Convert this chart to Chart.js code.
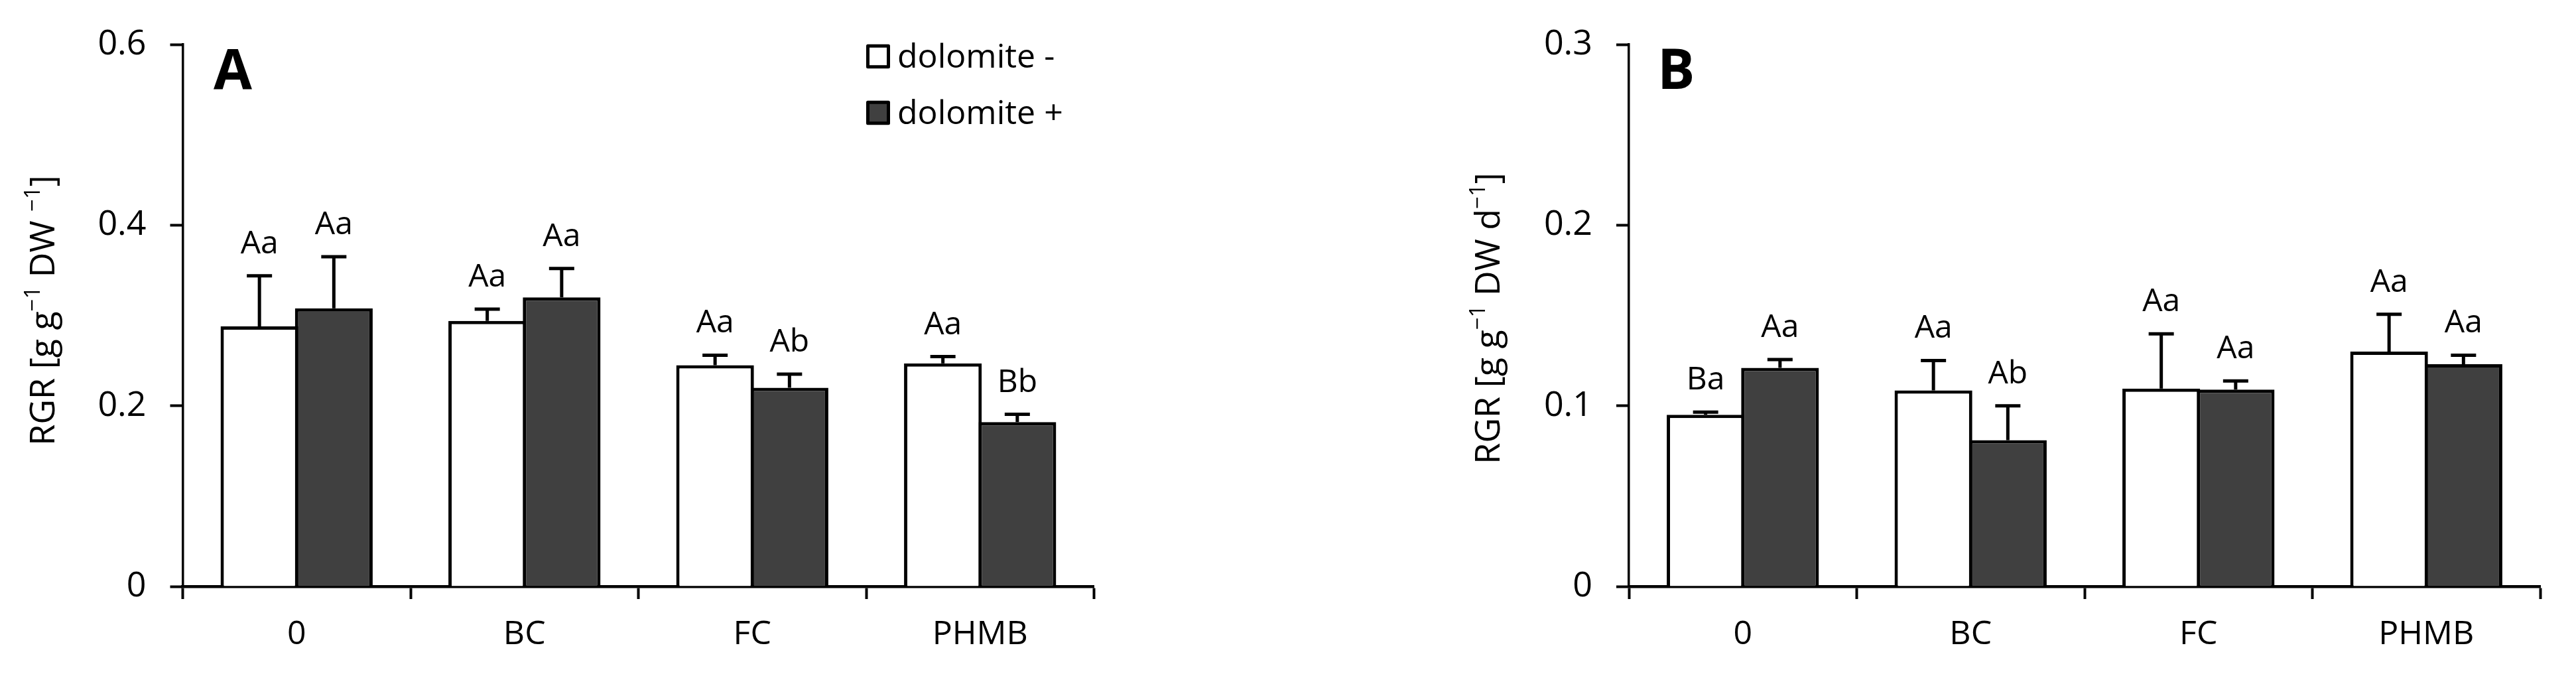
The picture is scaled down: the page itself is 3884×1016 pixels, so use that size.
<!DOCTYPE html>
<html>
<head>
<meta charset="utf-8">
<script src="https://cdn.jsdelivr.net/npm/chart.js@4.4.1/dist/chart.umd.min.js"></script>
<style>
  html, body { margin: 0; padding: 0; background: #fff; }
  #wrap { position: relative; width: 3884px; height: 1016px; }
  canvas { position: absolute; top: 0; }
</style>
</head>
<body>
<div id="wrap">
  <canvas id="chartA" width="1942" height="1016" style="left:0"></canvas>
  <canvas id="chartB" width="1942" height="1016" style="left:1942px"></canvas>
</div>
<script>
const categories = ['0', 'BC', 'FC', 'PHMB'];
const seriesNames = ['dolomite -', 'dolomite +'];

// panel A
const rgrA_minus = [0.288, 0.294, 0.245, 0.247];
const rgrA_plus = [0.308, 0.320, 0.220, 0.182];
const errA_minus = [0.056, 0.013, 0.011, 0.0075];
const errA_plus = [0.057, 0.032, 0.015, 0.0086];
const sigA_minus = ['Aa', 'Aa', 'Aa', 'Aa'];
const sigA_plus = ['Aa', 'Aa', 'Ab', 'Bb'];
const ticksA = [0, 0.2, 0.4, 0.6];

// panel B
const rgrB_minus = [0.095, 0.1085, 0.1095, 0.130];
const rgrB_plus = [0.121, 0.081, 0.109, 0.123];
const errB_minus = [0.0015, 0.0166, 0.0303, 0.0207];
const errB_plus = [0.0046, 0.019, 0.0048, 0.005];
const sigB_minus = ['Ba', 'Aa', 'Aa', 'Aa'];
const sigB_plus = ['Aa', 'Ab', 'Aa', 'Aa'];
const ticksB = [0, 0.1, 0.2, 0.3];

const FONT = '"Open Sans", sans-serif';
const DARK = '#404040';

// error bars, letters, y title, panel letter, legend
const annotate = {
    id: 'annotate',
    afterDraw(chart, args, opts) {
        const ctx = chart.ctx;
        const yScale = chart.scales.y;
        ctx.save();
        ctx.strokeStyle = '#000';
        ctx.fillStyle = '#000';
        chart.data.datasets.forEach((ds, di) => {
            const meta = chart.getDatasetMeta(di);
            meta.data.forEach((bar, i) => {
                const top = yScale.getPixelForValue(ds.data[i] + ds.errors[i]);
                ctx.lineWidth = 5;
                ctx.beginPath();
                ctx.moveTo(bar.x, bar.y);
                ctx.lineTo(bar.x, top);
                ctx.moveTo(bar.x - 19, top);
                ctx.lineTo(bar.x + 19, top);
                ctx.stroke();
                ctx.font = '48px ' + FONT;
                ctx.textAlign = 'center';
                ctx.textBaseline = 'alphabetic';
                ctx.fillText(ds.letters[i], bar.x, top - 34);
            });
        });

        // y axis title with superscripts
        const parts = opts.title;
        const big = '52px ' + FONT, small = '33px ' + FONT;
        let total = 0;
        parts.forEach(p => { ctx.font = p[1] ? small : big; total += ctx.measureText(p[0]).width; });
        ctx.translate(opts.titleX, opts.titleY);
        ctx.rotate(-Math.PI / 2);
        ctx.textAlign = 'left';
        let x = -total / 2;
        parts.forEach(p => {
            ctx.font = p[1] ? small : big;
            ctx.fillText(p[0], x, p[1] ? -22 : 0);
            x += ctx.measureText(p[0]).width;
        });
        ctx.setTransform(1, 0, 0, 1, 0, 0);

        // panel letter
        ctx.font = 'bold 84px ' + FONT;
        ctx.textAlign = 'left';
        ctx.fillText(opts.letter, opts.letterX, 134);

        if (opts.legend) {
            chart.data.datasets.forEach((ds, di) => {
                const top = 66.7 + di * 85;
                ctx.fillStyle = ds.backgroundColor;
                ctx.fillRect(1308.5, top + 2.5, 31, 31.6);
                ctx.lineWidth = 5;
                ctx.lineJoin = 'round';
                ctx.strokeStyle = '#000';
                ctx.strokeRect(1308.5, top + 2.5, 31, 31.6);
                ctx.fillStyle = '#000';
                ctx.font = '50px ' + FONT;
                ctx.fillText(ds.label, 1353, top + 35);
            });
        }
        ctx.restore();
    }
};

function makeChart(id, minus, plus, errM, errP, sigM, sigP, ticks, left, opts) {
    const right = 1942 - left - 1374;
    return new Chart(document.getElementById(id), {
        type: 'bar',
        data: {
            labels: categories,
            datasets: [{
                label: seriesNames[0],
                data: minus,
                errors: errM,
                letters: sigM,
                backgroundColor: '#ffffff',
                borderColor: '#000',
                borderWidth: 5
            }, {
                label: seriesNames[1],
                data: plus,
                errors: errP,
                letters: sigP,
                backgroundColor: DARK,
                borderColor: '#000',
                borderWidth: 5
            }]
        },
        options: {
            responsive: false,
            animation: false,
            devicePixelRatio: 1,
            layout: { padding: { top: 63.5, right: right, bottom: 0, left: 0 } },
            categoryPercentage: 0.6532,
            barPercentage: 1.0446,
            scales: {
                x: {
                    z: 1,
                    grid: { drawOnChartArea: false, offset: true, tickLength: 19, tickWidth: 4, tickColor: '#000' },
                    border: { display: true, color: '#000', width: 4.5 },
                    ticks: { color: '#000', font: { family: FONT, size: 50 }, padding: 24, maxRotation: 0 },
                    afterFit(s) { s.height = 132; }
                },
                y: {
                    z: 1,
                    min: ticks[0],
                    max: ticks[ticks.length - 1],
                    afterBuildTicks(s) { s.ticks = ticks.map(v => ({ value: v })); },
                    grid: { drawOnChartArea: false, tickLength: 19, tickWidth: 4, tickColor: '#000' },
                    border: { display: true, color: '#000', width: 3.5 },
                    ticks: { color: '#000', font: { family: FONT, size: 52 }, padding: 36 },
                    afterFit(s) { s.width = left; }
                }
            },
            plugins: {
                legend: { display: false },
                tooltip: { enabled: false },
                annotate: opts
            }
        },
        plugins: [annotate]
    });
}

makeChart('chartA', rgrA_minus, rgrA_plus, errA_minus, errA_plus, sigA_minus, sigA_plus, ticksA, 275.5, {
    title: [['RGR [g g', false], ['\u22121', true], [' DW ', false], ['\u22121', true], [']', false]],
    titleX: 81.7, titleY: 468, letter: 'A', letterX: 322, legend: true
});
makeChart('chartB', rgrB_minus, rgrB_plus, errB_minus, errB_plus, sigB_minus, sigB_plus, ticksB, 514, {
    title: [['RGR [g g', false], ['\u22121', true], [' DW d', false], ['\u22121', true], [']', false]],
    titleX: 319, titleY: 480, letter: 'B', letterX: 557, legend: false
});
</script>
</body>
</html>
